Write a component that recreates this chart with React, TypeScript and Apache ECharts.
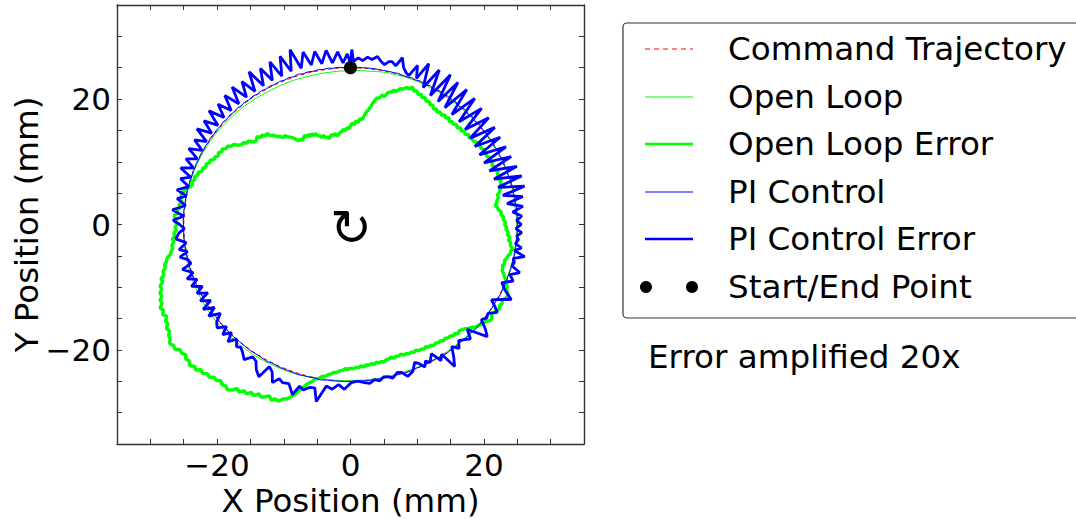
import React, { useEffect, useRef } from 'react';
import * as echarts from 'echarts';

// ---------------- data ----------------
const CMD_RADIUS = 25; // commanded circle radius (mm)
const ERROR_GAIN = 20; // "Error amplified 20x"

// commanded trajectory sample angles (deg, CCW from +X), traversed clockwise from the top
const cmdAngles = [
  90, 85, 80, 75, 70, 65, 60, 55, 50, 45, 40, 35, 30, 25, 20, 15, 10, 5, 0,
  -5, -10, -15, -20, -25, -30, -35, -40, -45, -50, -55, -60, -65, -70, -75, -80, -85, -90,
  -95, -100, -105, -110, -115, -120, -125, -130, -135, -140, -145, -150, -155, -160, -165, -170, -175, -180,
  -185, -190, -195, -200, -205, -210, -215, -220, -225, -230, -235, -240, -245, -250, -255, -260, -265, -270,
];

// Open loop error (amplified 20x), [angle deg, radius mm]
const openLoopErr: [number, number][] = [
  [90, 15.7], [89, 16.2], [88, 15.9], [87, 16.6], [86, 16.3], [85, 17.0], [84, 16.8], [83, 17.7], [82, 18.3], [81, 18.9],
  [80, 19.8], [79, 20.5], [78, 20.6], [77, 21.2], [76, 21.0], [75, 21.8], [74, 22.0], [73, 22.4], [72, 22.3], [71, 22.9],
  [70, 23.0], [69, 23.4], [68, 23.3], [67, 23.8], [66, 23.3], [65, 23.5], [64, 23.1], [63, 23.3], [62, 22.9], [61, 23.1],
  [60, 22.7], [59, 22.9], [58, 22.5], [57, 22.7], [56, 22.2], [55, 22.5], [54, 22.1], [53, 22.4], [52, 22.1], [51, 22.5],
  [50, 22.2], [49, 22.5], [48, 22.1], [47, 22.4], [46, 22.2], [45, 22.5], [44, 22.2], [43, 22.6], [42, 22.3], [41, 22.6],
  [40, 22.4], [39, 22.8], [38, 22.5], [37, 22.8], [36, 22.7], [35, 23.0], [34, 22.8], [33, 23.2], [32, 23.0], [31, 23.3],
  [30, 23.0], [29, 23.3], [28, 23.1], [27, 23.5], [26, 23.2], [25, 23.5], [24, 23.2], [23, 23.5], [22, 23.3], [21, 23.7],
  [20, 23.4], [19, 23.6], [18, 23.3], [17, 23.6], [16, 23.4], [15, 23.5], [14, 23.1], [13, 22.9], [12, 22.5], [11, 22.6],
  [10, 22.3], [9, 22.2], [8, 21.9], [7, 22.2], [6, 22.3], [5, 22.7], [4, 22.6], [3, 23.0], [2, 22.9], [1, 23.2],
  [0, 23.1], [-1, 23.4], [-2, 23.3], [-3, 23.7], [-4, 23.6], [-5, 24.0], [-6, 23.8], [-7, 24.2], [-8, 24.2], [-9, 24.6],
  [-10, 24.4], [-11, 24.4], [-12, 24.1], [-13, 24.0], [-14, 23.8], [-15, 23.9], [-16, 23.7], [-17, 23.9], [-18, 23.9], [-19, 24.3],
  [-20, 24.6], [-21, 25.0], [-22, 25.2], [-23, 25.5], [-24, 25.6], [-25, 26.0], [-26, 26.2], [-27, 26.0], [-28, 25.7], [-29, 26.0],
  [-30, 25.8], [-31, 26.1], [-32, 25.8], [-33, 25.7], [-34, 25.5], [-35, 25.9], [-36, 26.0], [-37, 25.6], [-38, 25.4], [-39, 25.3],
  [-40, 25.0], [-41, 24.9], [-42, 24.5], [-43, 24.3], [-44, 23.9], [-45, 23.7], [-46, 23.5], [-47, 23.7], [-48, 23.4], [-49, 23.5],
  [-50, 23.2], [-51, 23.3], [-52, 23.0], [-53, 23.2], [-54, 22.9], [-55, 23.0], [-56, 22.8], [-57, 23.0], [-58, 22.7], [-59, 22.8],
  [-60, 22.5], [-61, 22.7], [-62, 22.5], [-63, 22.6], [-64, 22.3], [-65, 22.5], [-66, 22.3], [-67, 22.4], [-68, 22.2], [-69, 22.3],
  [-70, 22.0], [-71, 22.2], [-72, 22.1], [-73, 22.3], [-74, 22.0], [-75, 22.2], [-76, 22.2], [-77, 22.5], [-78, 22.3], [-79, 22.5],
  [-80, 22.3], [-81, 22.6], [-82, 22.4], [-83, 22.6], [-84, 22.5], [-85, 22.8], [-86, 22.6], [-87, 22.9], [-88, 22.8], [-89, 23.0],
  [-90, 22.9], [-91, 23.1], [-92, 23.0], [-93, 23.3], [-94, 23.4], [-95, 23.7], [-96, 23.7], [-97, 24.0], [-98, 24.2], [-99, 24.5],
  [-100, 24.6], [-101, 25.0], [-102, 25.2], [-103, 25.7], [-104, 26.1], [-105, 26.7], [-106, 27.4], [-107, 28.3], [-108, 28.9], [-109, 29.4],
  [-110, 29.6], [-111, 30.2], [-112, 30.0], [-113, 30.4], [-114, 29.9], [-115, 30.3], [-116, 30.6], [-117, 30.3], [-118, 30.9], [-119, 30.6],
  [-120, 31.2], [-121, 30.9], [-122, 31.5], [-123, 31.2], [-124, 31.8], [-125, 32.2], [-126, 31.8], [-127, 32.0], [-128, 31.6], [-129, 32.0],
  [-130, 31.8], [-131, 32.3], [-132, 32.0], [-133, 32.5], [-134, 32.2], [-135, 32.8], [-136, 32.5], [-137, 33.0], [-138, 32.5], [-139, 32.7],
  [-140, 32.3], [-141, 32.6], [-142, 32.4], [-143, 33.0], [-144, 32.8], [-145, 33.1], [-146, 32.6], [-147, 32.5], [-148, 32.0], [-149, 32.2],
  [-150, 31.6], [-151, 31.7], [-152, 31.2], [-153, 31.6], [-154, 31.2], [-155, 31.5], [-156, 30.9], [-157, 31.0], [-158, 30.5], [-159, 30.6],
  [-160, 30.1], [-161, 30.2], [-162, 29.6], [-163, 29.7], [-164, 29.1], [-165, 29.1], [-166, 28.6], [-167, 28.6], [-168, 28.2], [-169, 28.0],
  [-170, 27.4], [-171, 27.2], [-172, 26.9], [-173, 27.0], [-174, 26.6], [-175, 26.8], [-176, 26.4], [-177, 26.5], [-178, 26.1], [-179, 26.3],
  [-180, 26.0], [-181, 26.3], [-182, 26.1], [-183, 26.5], [-184, 26.0], [-185, 26.1], [-186, 25.7], [-187, 25.9], [-188, 25.5], [-189, 25.8],
  [-190, 25.6], [-191, 25.9], [-192, 25.5], [-193, 25.3], [-194, 24.8], [-195, 24.5], [-196, 24.8], [-197, 24.4], [-198, 24.6], [-199, 24.2],
  [-200, 24.3], [-201, 23.8], [-202, 23.9], [-203, 23.5], [-204, 23.7], [-205, 23.3], [-206, 23.4], [-207, 22.9], [-208, 23.0], [-209, 22.6],
  [-210, 22.9], [-211, 22.5], [-212, 22.7], [-213, 22.2], [-214, 22.3], [-215, 21.8], [-216, 21.7], [-217, 21.0], [-218, 20.7], [-219, 20.7],
  [-220, 20.2], [-221, 20.3], [-222, 19.7], [-223, 19.4], [-224, 19.6], [-225, 19.8], [-226, 19.3], [-227, 19.5], [-228, 19.0], [-229, 19.2],
  [-230, 18.5], [-231, 18.3], [-232, 17.8], [-233, 17.6], [-234, 17.1], [-235, 17.3], [-236, 16.9], [-237, 16.6], [-238, 16.3], [-239, 15.8],
  [-240, 15.4], [-241, 15.6], [-242, 15.2], [-243, 15.5], [-244, 15.8], [-245, 15.4], [-246, 15.7], [-247, 15.3], [-248, 15.6], [-249, 15.2],
  [-250, 15.4], [-251, 15.0], [-252, 14.8], [-253, 14.5], [-254, 14.8], [-255, 14.4], [-256, 14.3], [-257, 14.1], [-258, 14.4], [-259, 14.6],
  [-260, 14.4], [-261, 14.7], [-262, 14.3], [-263, 14.5], [-264, 14.8], [-265, 14.9], [-266, 15.2], [-267, 15.0], [-268, 15.4], [-269, 15.3],
  [-270, 15.7],
];

// PI control error (amplified 20x), [angle deg, radius mm]
const piErr: [number, number][] = [
  [90, 25.6], [89.6, 27.9], [89, 26.0], [87.5, 26.6], [86, 26.2], [84.5, 26.8], [83, 26.5], [81.4, 27.1], [80, 26.4], [78.7, 26.0],
  [77.5, 26.6], [76.5, 26.7], [75, 26.2], [73.7, 27.7], [72.4, 26.3], [71, 25.6], [69.8, 25.3], [68.4, 27.3], [67.0, 25.3], [65.4, 28.2],
  [63.5, 24.4], [61.6, 28.0], [59.8, 23.8], [57.9, 28.2], [56.2, 23.6], [54.6, 27.8], [52.8, 23.4], [51.0, 27.7], [49.1, 23.2], [47.2, 27.4],
  [45.2, 23.1], [43.3, 27.0], [41.4, 22.9], [39.4, 26.8], [37.5, 22.6], [35.6, 26.6], [33.7, 22.4], [31.8, 26.4], [29.9, 22.3], [28.0, 26.4],
  [26.1, 22.3], [24.2, 26.4], [22.3, 22.5], [20.4, 26.6], [18.6, 22.7], [16.8, 26.8], [15.0, 22.9], [13.2, 26.8], [11.5, 23.3], [9.8, 26.2],
  [8.1, 23.7], [6.4, 26.0], [4.7, 24.4], [3.0, 25.7], [1.5, 24.9], [0, 25.6], [-1.5, 24.8], [-2.9, 25.7], [-4.2, 25.0], [-5.5, 25.3],
  [-7, 24.9], [-8.3, 25.9], [-9.6, 24.9], [-11.1, 26.6], [-12.5, 25.0], [-13.8, 25.3], [-15.3, 25.1], [-16.8, 26.5], [-18.5, 25.2], [-20.3, 26.0],
  [-22.2, 24.5], [-24.3, 25.4], [-26.4, 26.9], [-28.0, 25.4], [-29.6, 24.3], [-31.0, 25.2], [-32.5, 26.1], [-34.5, 25.0], [-36.2, 25.3], [-37.7, 24.8],
  [-39.5, 26.2], [-41.1, 27.2], [-42.3, 25.7], [-43.7, 24.2], [-45.4, 25.6], [-47.0, 25.1], [-48.8, 24.6], [-50.5, 25.6], [-52.1, 24.7], [-53.8, 26.2],
  [-55.4, 27.5], [-56.6, 24.8], [-58.0, 25.6], [-59.5, 23.9], [-61.5, 25.0], [-62.7, 24.5], [-63.9, 25.3], [-65.2, 24.4], [-66.4, 24.0], [-68.2, 25.2],
  [-70.5, 25.7], [-72.0, 24.8], [-73.4, 24.6], [-75.5, 25.3], [-77.0, 24.9], [-78.5, 24.8], [-80.0, 25.3], [-81.7, 25.0], [-83.5, 25.5], [-85.2, 25.3],
  [-87.5, 25.0], [-89.7, 25.2], [-92.0, 26.3], [-94.0, 25.6], [-96.0, 26.4], [-98.0, 26.0], [-100.3, 28.7], [-101.6, 26.6], [-103.3, 26.7], [-105.0, 27.3],
  [-106.5, 26.9], [-107.8, 28.5], [-110.0, 27.0], [-112.0, 27.2], [-113.5, 26.8], [-114.9, 27.8], [-116.5, 26.3], [-118.2, 25.7], [-119.5, 27.9], [-121.4, 27.1],
  [-123.0, 26.0], [-124.8, 25.7], [-126.5, 26.8], [-128.5, 26.0], [-130.0, 25.6], [-131.3, 25.9], [-133.0, 25.0], [-134.5, 26.2], [-136.0, 24.8], [-137.5, 26.0],
  [-138.8, 24.7], [-140.5, 25.9], [-142.2, 25.4], [-144.0, 24.1], [-145.5, 25.8], [-147.0, 24.3], [-148.5, 25.9], [-150.0, 24.2], [-151.6, 25.6], [-153.0, 24.0],
  [-154.5, 25.5], [-156.0, 24.3], [-157.5, 25.8], [-159.2, 24.6], [-160.5, 26.0], [-162.0, 24.8], [-164.1, 26.2], [-165.5, 24.7], [-167.0, 25.0], [-168.5, 26.1],
  [-170.0, 24.8], [-171.1, 26.0], [-173.3, 24.8], [-175.0, 26.3], [-177.1, 25.7], [-178.5, 24.9], [-180.0, 25.6], [-181.5, 26.6], [-183.0, 25.0], [-185.0, 26.8],
  [-187.0, 24.9], [-189.0, 26.3], [-190.5, 25.0], [-192.0, 26.6], [-194.0, 25.0], [-196.0, 26.5], [-197.5, 25.1], [-199.5, 27.0], [-201.0, 25.2], [-203.0, 26.8],
  [-204.5, 25.2], [-206.5, 27.1], [-208.0, 25.2], [-210.0, 27.0], [-211.5, 25.3], [-213.5, 27.6], [-215.0, 25.4], [-217.0, 27.5], [-218.5, 25.4], [-220.5, 27.9],
  [-222.0, 25.5], [-224.0, 27.6], [-225.5, 25.5], [-227.5, 27.9], [-229.0, 25.5], [-231.0, 28.2], [-232.5, 25.6], [-234.5, 28.0], [-236.0, 25.6], [-238.0, 28.7],
  [-239.5, 25.7], [-241.5, 28.3], [-243.0, 25.8], [-245.0, 28.6], [-246.5, 25.8], [-248.5, 28.8], [-250.0, 26.0], [-252.0, 29.3], [-253.5, 26.0], [-255.5, 28.4],
  [-257.0, 26.1], [-259.0, 28.1], [-260.5, 26.0], [-262.5, 28.0], [-264.0, 25.9], [-266.0, 27.6], [-267.5, 25.8], [-269.0, 27.2], [-270.0, 25.6],
];

// start / end point (x, y) in mm
const startEndPoints = [
  [0, 25],
  [0, 25],
];

const tickValues = [-30, -25, -20, -15, -10, -5, 0, 5, 10, 15, 20, 25, 30];
const xLabelValues = [-20, 0, 20];
const yLabelValues = [-20, 0, 20];

const seriesNames = [
  'Command Trajectory',
  'Open Loop',
  'Open Loop Error',
  'PI Control',
  'PI Control Error',
  'Start/End Point',
];
const annotation = 'Error amplified 20x';

// ---------------- helpers ----------------
const toXY = (list: [number, number][]) =>
  list.map(([t, r]) => {
    const a = (t * Math.PI) / 180;
    return [r * Math.cos(a), r * Math.sin(a)];
  });
// actual (non-amplified) trajectory from the amplified error
const unamplify = (list: [number, number][]): [number, number][] =>
  list.map(([t, r]) => [t, CMD_RADIUS + (r - CMD_RADIUS) / ERROR_GAIN]);

const FONT = 'DejaVu Sans';
const fmt = (v: number) => (v < 0 ? '\u2212' + Math.abs(v) : String(v));

export default function App() {
  const ref = useRef<HTMLDivElement>(null);

  useEffect(() => {
    if (!ref.current) return;
    const chart = echarts.init(ref.current, undefined, { renderer: 'svg' });

    const tickStyle = { show: true, inside: true, length: 5, customValues: tickValues, lineStyle: { color: '#333', width: 1 } };
    const lineAxis = { show: true, onZero: false, lineStyle: { color: '#333', width: 1.4 } };
    const labelStyle = { color: '#000', fontSize: 31, fontFamily: FONT };

    const cmdData = toXY(cmdAngles.map((a) => [a, CMD_RADIUS] as [number, number]));

    // legend layout
    const legX0 = 645, legX1 = 693, legTextX = 728;
    const rowY = [49, 97, 144, 192, 239, 287];
    const legendStyles = [
      { stroke: '#ff0000', lineWidth: 1, lineDash: [5, 4] },
      { stroke: '#00ff00', lineWidth: 1 },
      { stroke: '#00ff00', lineWidth: 2.5 },
      { stroke: '#0000ff', lineWidth: 1 },
      { stroke: '#0000ff', lineWidth: 2.5 },
    ];
    const graphic: any[] = [
      {
        type: 'rect',
        shape: { x: 623, y: 23, width: 470, height: 295, r: 4 },
        style: { fill: '#fff', stroke: '#333', lineWidth: 1.2 },
        z: 10,
      },
    ];
    legendStyles.forEach((st, i) => {
      graphic.push({ type: 'line', shape: { x1: legX0, y1: rowY[i], x2: legX1, y2: rowY[i] }, style: st, z: 11 });
    });
    graphic.push({ type: 'circle', shape: { cx: 646, cy: rowY[5], r: 6 }, style: { fill: '#000' }, z: 11 });
    graphic.push({ type: 'circle', shape: { cx: 692, cy: rowY[5], r: 6 }, style: { fill: '#000' }, z: 11 });
    seriesNames.forEach((n, i) => {
      graphic.push({
        type: 'text', x: legTextX, y: rowY[i], z: 11,
        style: { text: n, fill: '#000', fontSize: 32.6, fontFamily: FONT, verticalAlign: 'middle', align: 'left' },
      });
    });
    graphic.push({
      type: 'text', x: 648, y: 357, z: 11,
      style: { text: annotation, fill: '#000', fontSize: 32.6, fontFamily: FONT, verticalAlign: 'middle', align: 'left' },
    });
    graphic.push({
      type: 'text', x: 351, y: 228, z: 11,
      style: { text: '\u21BB', fill: '#000', fontSize: 50, fontFamily: FONT, verticalAlign: 'middle', align: 'center' },
    });

    const option: any = {
      animation: false,
      backgroundColor: '#fff',
      textStyle: { fontFamily: FONT },
      grid: { left: 117, top: 5, width: 467, height: 439, containLabel: false, outerBoundsMode: 'none' },
      xAxis: [
        {
          type: 'value', min: -35, max: 35, position: 'bottom',
          axisLine: lineAxis, splitLine: { show: false }, axisTick: tickStyle,
          axisLabel: { ...labelStyle, customValues: xLabelValues, formatter: fmt, margin: 5 },
          name: 'X Position (mm)', nameLocation: 'middle', nameGap: 40, nameMoveOverlap: false,
          nameTextStyle: { color: '#000', fontSize: 32.5, fontFamily: FONT },
        },
        {
          type: 'value', min: -35, max: 35, position: 'top',
          axisLine: lineAxis, splitLine: { show: false }, axisTick: tickStyle, axisLabel: { show: false },
        },
      ],
      yAxis: [
        {
          type: 'value', min: -35, max: 35, position: 'left',
          axisLine: lineAxis, splitLine: { show: false }, axisTick: tickStyle,
          axisLabel: { ...labelStyle, customValues: yLabelValues, formatter: fmt, margin: 6 },
          name: 'Y Position (mm)', nameLocation: 'middle', nameGap: 74, nameRotate: 90, nameMoveOverlap: false,
          nameTextStyle: { color: '#000', fontSize: 32.5, fontFamily: FONT },
        },
        {
          type: 'value', min: -35, max: 35, position: 'right',
          axisLine: lineAxis, splitLine: { show: false }, axisTick: tickStyle, axisLabel: { show: false },
        },
      ],
      series: [
        {
          name: seriesNames[0], type: 'line', data: cmdData, symbol: 'none', xAxisIndex: 0, yAxisIndex: 0,
          lineStyle: { color: '#ff0000', width: 1, type: [4, 3] },
        },
        {
          name: seriesNames[1], type: 'line', data: toXY(unamplify(openLoopErr)), symbol: 'none',
          lineStyle: { color: '#00ff00', width: 1 },
        },
        {
          name: seriesNames[2], type: 'line', data: toXY(openLoopErr), symbol: 'none',
          lineStyle: { color: '#00ff00', width: 3.4 },
        },
        {
          name: seriesNames[3], type: 'line', data: toXY(unamplify(piErr)), symbol: 'none',
          lineStyle: { color: '#0000ff', width: 1 },
        },
        {
          name: seriesNames[4], type: 'line', data: toXY(piErr), symbol: 'none',
          lineStyle: { color: '#0000ff', width: 2.8 },
        },
        {
          name: seriesNames[5], type: 'scatter', data: startEndPoints, symbol: 'circle', symbolSize: 13,
          itemStyle: { color: '#000' }, z: 5,
        },
      ],
      graphic,
    };
    chart.setOption(option);
    return () => chart.dispose();
  }, []);

  return <div ref={ref} style={{ position: 'fixed', left: 0, top: 0, width: 1076, height: 519 }} />;
}
